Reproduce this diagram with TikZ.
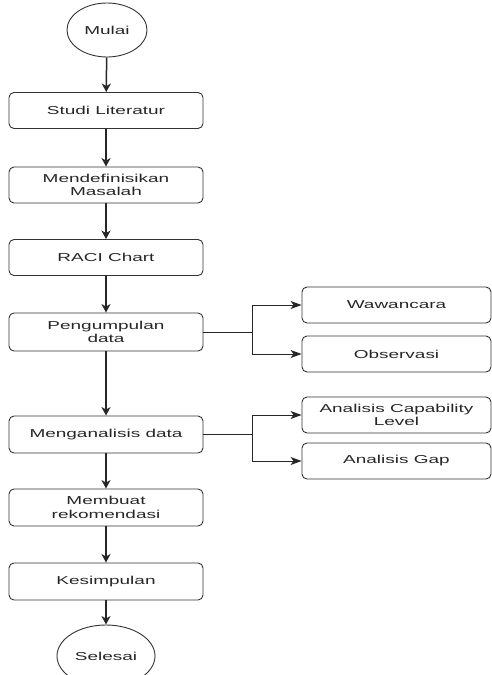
\documentclass[tikz,border=0pt]{standalone}
\usepackage{fontspec}
\setmainfont{Liberation Sans}[FakeStretch=1.65]
\usetikzlibrary{shapes.geometric,arrows.meta}
\begin{document}
\begin{tikzpicture}[x=1pt,y=-1pt,
  every node/.style={font=\fontsize{11.5}{13.5}\selectfont, text=black!85, align=center},
  procbox/.style={draw=black!80, line width=0.9pt, rounded corners=5pt, inner sep=0pt},
  mainbox/.style={procbox, minimum width=194pt, minimum height=36pt},
  sidebox/.style={procbox, minimum width=189pt, minimum height=36pt},
  term/.style={draw=black!80, line width=0.9pt, ellipse, inner sep=0pt},
  arr/.style={draw=black!85, line width=1.5pt, -{Stealth[length=8.5pt,width=9pt,inset=2.5pt]}},
  sidearr/.style={draw=black!85, line width=1pt, -{Stealth[length=11pt,width=8pt,inset=3pt]}},
  ln/.style={draw=black!85, line width=1pt}]
\useasboundingbox (0,0) rectangle (492,675);
\begin{scope}
\clip (0,0) rectangle (492,675);
\node[term, minimum width=80pt, minimum height=54pt] (mulai) at (107,30) {Mulai};
\node[mainbox] (studi) at (106,110.5) {Studi Literatur};
\node[mainbox] (def) at (106,185) {Mendefinisikan\\Masalah};
\node[mainbox] (raci) at (106,257.5) {RACI Chart};
\node[mainbox, minimum height=38pt] (peng) at (106,332) {Pengumpulan\\data};
\node[mainbox, minimum height=37pt] (anal) at (106,434.5) {Menganalisis data};
\node[mainbox, minimum height=37pt] (rek) at (106,507.5) {Membuat\\rekomendasi};
\node[mainbox, minimum height=37pt] (kes) at (106,581.5) {Kesimpulan};
\node[term, minimum width=98pt, minimum height=62pt] (sel) at (106,656) {Selesai};

\node[sidebox] (waw) at (396.5,305) {Wawancara};
\node[sidebox] (obs) at (396.5,354) {Observasi};
\node[sidebox] (cap) at (396.5,415) {Analisis Capability\\Level};
\node[sidebox] (gap) at (396.5,461) {Analisis Gap};

\coordinate (j1) at (252,332);
\coordinate (j2) at (252,434.5);

\draw[arr] (mulai) -- (studi);
\draw[arr] (studi) -- (def);
\draw[arr] (def) -- (raci);
\draw[arr] (raci) -- (peng);
\draw[arr] (peng) -- (anal);
\draw[arr] (anal) -- (rek);
\draw[arr] (rek) -- (kes);
\draw[arr] (kes) -- (sel);

\draw[ln] (peng.east) -- (j1);
\draw[sidearr] (j1) |- (waw.west);
\draw[sidearr] (j1) |- (obs.west);
\draw[ln] (anal.east) -- (j2);
\draw[sidearr] (j2) |- (cap.west);
\draw[sidearr] (j2) |- (gap.west);
\end{scope}
\end{tikzpicture}
\end{document}
